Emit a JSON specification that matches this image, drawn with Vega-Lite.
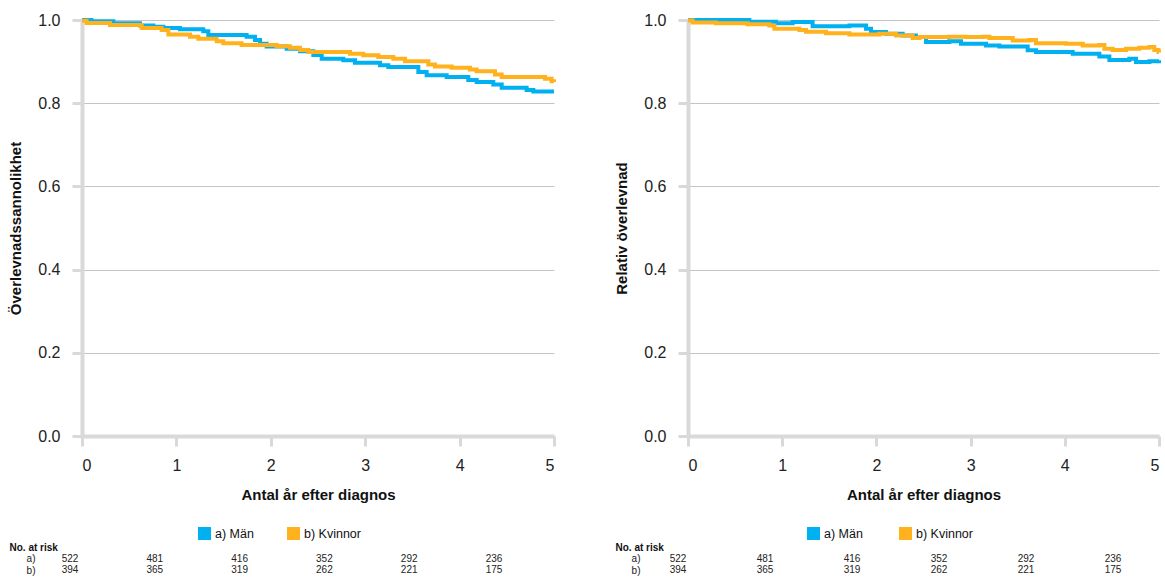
{
  "$schema": "https://vega.github.io/schema/vega-lite/v6.json",
  "padding": {"left": 8, "top": 12, "right": 0, "bottom": 0},
  "background": "white",
  "config": {
    "view": {"stroke": null},
    "font": "Liberation Sans",
    "axis": {"labelColor": "#222222", "titleColor": "#111111", "titleFontWeight": "bold"}
  },
  "datasets": {
    "surv": [
      {"t":0,"s":1.0,"g":"a) Män"},{"t":0.1,"s":0.997,"g":"a) Män"},{"t":0.332,"s":0.992,"g":"a) Män"},{"t":0.614,"s":0.987,"g":"a) Män"},{"t":0.756,"s":0.984,"g":"a) Män"},{"t":0.862,"s":0.981,"g":"a) Män"},{"t":1.038,"s":0.978,"g":"a) Män"},{"t":1.285,"s":0.973,"g":"a) Män"},{"t":1.338,"s":0.964,"g":"a) Män"},{"t":1.744,"s":0.960,"g":"a) Män"},{"t":1.833,"s":0.952,"g":"a) Män"},{"t":1.886,"s":0.943,"g":"a) Män"},{"t":1.956,"s":0.936,"g":"a) Män"},{"t":2.168,"s":0.931,"g":"a) Män"},{"t":2.309,"s":0.925,"g":"a) Män"},{"t":2.451,"s":0.916,"g":"a) Män"},{"t":2.539,"s":0.907,"g":"a) Män"},{"t":2.768,"s":0.903,"g":"a) Män"},{"t":2.892,"s":0.897,"g":"a) Män"},{"t":3.157,"s":0.891,"g":"a) Män"},{"t":3.245,"s":0.887,"g":"a) Män"},{"t":3.563,"s":0.875,"g":"a) Män"},{"t":3.651,"s":0.867,"g":"a) Män"},{"t":3.863,"s":0.863,"g":"a) Män"},{"t":4.092,"s":0.856,"g":"a) Män"},{"t":4.181,"s":0.851,"g":"a) Män"},{"t":4.357,"s":0.845,"g":"a) Män"},{"t":4.446,"s":0.837,"g":"a) Män"},{"t":4.71,"s":0.832,"g":"a) Män"},{"t":4.781,"s":0.828,"g":"a) Män"},{"t":5.0,"s":0.828,"g":"a) Män"},
      {"t":0,"s":0.998,"g":"b) Kvinnor"},{"t":0.049,"s":0.993,"g":"b) Kvinnor"},{"t":0.297,"s":0.988,"g":"b) Kvinnor"},{"t":0.632,"s":0.981,"g":"b) Kvinnor"},{"t":0.844,"s":0.976,"g":"b) Kvinnor"},{"t":0.915,"s":0.965,"g":"b) Kvinnor"},{"t":1.144,"s":0.960,"g":"b) Kvinnor"},{"t":1.232,"s":0.955,"g":"b) Kvinnor"},{"t":1.427,"s":0.949,"g":"b) Kvinnor"},{"t":1.497,"s":0.944,"g":"b) Kvinnor"},{"t":1.691,"s":0.940,"g":"b) Kvinnor"},{"t":2.062,"s":0.937,"g":"b) Kvinnor"},{"t":2.203,"s":0.933,"g":"b) Kvinnor"},{"t":2.309,"s":0.928,"g":"b) Kvinnor"},{"t":2.398,"s":0.923,"g":"b) Kvinnor"},{"t":2.839,"s":0.919,"g":"b) Kvinnor"},{"t":2.98,"s":0.915,"g":"b) Kvinnor"},{"t":3.139,"s":0.911,"g":"b) Kvinnor"},{"t":3.298,"s":0.907,"g":"b) Kvinnor"},{"t":3.422,"s":0.901,"g":"b) Kvinnor"},{"t":3.669,"s":0.893,"g":"b) Kvinnor"},{"t":3.739,"s":0.888,"g":"b) Kvinnor"},{"t":3.916,"s":0.885,"g":"b) Kvinnor"},{"t":4.11,"s":0.881,"g":"b) Kvinnor"},{"t":4.181,"s":0.877,"g":"b) Kvinnor"},{"t":4.375,"s":0.869,"g":"b) Kvinnor"},{"t":4.446,"s":0.863,"g":"b) Kvinnor"},{"t":4.905,"s":0.859,"g":"b) Kvinnor"},{"t":4.975,"s":0.853,"g":"b) Kvinnor"},{"t":5.0,"s":0.851,"g":"b) Kvinnor"}
    ],
    "rel": [
      {"t":0,"s":1.0,"g":"a) Män"},{"t":0.651,"s":0.996,"g":"a) Män"},{"t":0.934,"s":0.992,"g":"a) Män"},{"t":1.111,"s":0.995,"g":"a) Män"},{"t":1.323,"s":0.985,"g":"a) Män"},{"t":1.713,"s":0.987,"g":"a) Män"},{"t":1.89,"s":0.979,"g":"a) Män"},{"t":1.943,"s":0.971,"g":"a) Män"},{"t":2.102,"s":0.967,"g":"a) Män"},{"t":2.279,"s":0.963,"g":"a) Män"},{"t":2.42,"s":0.959,"g":"a) Män"},{"t":2.527,"s":0.947,"g":"a) Män"},{"t":2.774,"s":0.949,"g":"a) Män"},{"t":2.898,"s":0.943,"g":"a) Män"},{"t":3.163,"s":0.939,"g":"a) Män"},{"t":3.305,"s":0.936,"g":"a) Män"},{"t":3.606,"s":0.927,"g":"a) Män"},{"t":3.694,"s":0.923,"g":"a) Män"},{"t":4.084,"s":0.919,"g":"a) Män"},{"t":4.367,"s":0.912,"g":"a) Män"},{"t":4.473,"s":0.904,"g":"a) Män"},{"t":4.685,"s":0.907,"g":"a) Män"},{"t":4.756,"s":0.899,"g":"a) Män"},{"t":4.897,"s":0.901,"g":"a) Män"},{"t":5.0,"s":0.903,"g":"a) Män"},
      {"t":0,"s":0.999,"g":"b) Kvinnor"},{"t":0.049,"s":0.994,"g":"b) Kvinnor"},{"t":0.297,"s":0.992,"g":"b) Kvinnor"},{"t":0.632,"s":0.990,"g":"b) Kvinnor"},{"t":0.863,"s":0.987,"g":"b) Kvinnor"},{"t":0.917,"s":0.979,"g":"b) Kvinnor"},{"t":1.182,"s":0.976,"g":"b) Kvinnor"},{"t":1.253,"s":0.972,"g":"b) Kvinnor"},{"t":1.465,"s":0.968,"g":"b) Kvinnor"},{"t":1.713,"s":0.965,"g":"b) Kvinnor"},{"t":2.031,"s":0.967,"g":"b) Kvinnor"},{"t":2.208,"s":0.963,"g":"b) Kvinnor"},{"t":2.385,"s":0.957,"g":"b) Kvinnor"},{"t":2.456,"s":0.959,"g":"b) Kvinnor"},{"t":2.774,"s":0.960,"g":"b) Kvinnor"},{"t":2.951,"s":0.959,"g":"b) Kvinnor"},{"t":3.128,"s":0.960,"g":"b) Kvinnor"},{"t":3.199,"s":0.957,"g":"b) Kvinnor"},{"t":3.447,"s":0.951,"g":"b) Kvinnor"},{"t":3.623,"s":0.952,"g":"b) Kvinnor"},{"t":3.694,"s":0.944,"g":"b) Kvinnor"},{"t":4.013,"s":0.943,"g":"b) Kvinnor"},{"t":4.19,"s":0.939,"g":"b) Kvinnor"},{"t":4.367,"s":0.940,"g":"b) Kvinnor"},{"t":4.42,"s":0.931,"g":"b) Kvinnor"},{"t":4.508,"s":0.928,"g":"b) Kvinnor"},{"t":4.65,"s":0.931,"g":"b) Kvinnor"},{"t":4.791,"s":0.933,"g":"b) Kvinnor"},{"t":4.897,"s":0.935,"g":"b) Kvinnor"},{"t":4.95,"s":0.928,"g":"b) Kvinnor"},{"t":4.995,"s":0.923,"g":"b) Kvinnor"},{"t":5.0,"s":0.922,"g":"b) Kvinnor"}
    ],
    "risk": [
      {"t":0,"r":"a)","n":522},{"t":1,"r":"a)","n":481},{"t":2,"r":"a)","n":416},{"t":3,"r":"a)","n":352},{"t":4,"r":"a)","n":292},{"t":5,"r":"a)","n":236},
      {"t":0,"r":"b)","n":394},{"t":1,"r":"b)","n":365},{"t":2,"r":"b)","n":319},{"t":3,"r":"b)","n":262},{"t":4,"r":"b)","n":221},{"t":5,"r":"b)","n":175}
    ]
  },
  "resolve": {"scale": {"color": "independent"}, "legend": {"color": "independent"}},
  "spacing": 52,
  "hconcat": [
    {
      "spacing": 2,
      "resolve": {"scale": {"color": "independent"}, "legend": {"color": "independent"}},
      "vconcat": [
        {
          "width": 472,
          "height": 416,
          "data": {"name": "surv"},
          "mark": {"type": "line", "interpolate": "step-after", "strokeWidth": 4},
          "encoding": {
            "x": {"field": "t", "type": "quantitative", "scale": {"domain": [0, 5], "nice": false},
              "axis": {"title": "Antal år efter diagnos", "values": [0,1,2,3,4,5], "grid": false, "domainColor": "#d9d9d9", "domainWidth": 4, "tickColor": "#d9d9d9", "tickWidth": 3, "tickSize": 10, "labelFontSize": 16, "labelPadding": 11, "titleFontSize": 15, "titlePadding": 14}},
            "y": {"field": "s", "type": "quantitative", "scale": {"domain": [0, 1], "nice": false},
              "axis": {"title": "Överlevnadssannolikhet", "values": [0,0.2,0.4,0.6,0.8,1], "format": ".1f", "grid": true, "gridColor": "#c4c4c4", "gridWidth": 1, "domainColor": "#d9d9d9", "domainWidth": 4, "tickColor": "#d9d9d9", "tickWidth": 3, "tickSize": 10, "labelFontSize": 16, "labelPadding": 12, "titleFontSize": 15, "titlePadding": 14}},
            "color": {"field": "g", "type": "nominal",
              "scale": {"domain": ["a) Män", "b) Kvinnor"], "range": ["#00b0f0", "#ffb21e"]},
              "legend": {"title": null, "orient": "none", "legendX": 116, "legendY": 507, "direction": "horizontal", "padding": 0, "symbolType": "square", "symbolSize": 169, "labelFontSize": 12.5, "labelColor": "#111111", "labelOffset": 4, "columnPadding": 33,
                "encode": {"symbols": {"update": {"fill": {"signal": "datum.value === 'a) Män' ? '#00b0f0' : '#ffb21e'"}, "stroke": {"value": "transparent"}, "strokeWidth": {"value": 0}, "opacity": {"value": 1}}}}}}
          }
        },
        {
          "width": 440,
          "height": 23,
          "data": {"name": "risk"},
          "mark": {"type": "text", "fontSize": 10, "align": "center", "baseline": "middle", "color": "#222222"},
          "encoding": {
            "x": {"field": "t", "type": "quantitative", "scale": {"domain": [0.14151, 5.3302], "nice": false, "zero": false}, "axis": null},
            "y": {"field": "r", "type": "nominal", "scale": {"type": "point", "padding": 0.5},
              "axis": {"title": "No. at risk", "titleAngle": 0, "titleAlign": "left", "titleBaseline": "middle", "titleX": -73, "titleY": -6, "titleFontSize": 10, "titleFontWeight": "bold", "domain": false, "ticks": false, "grid": false, "labelFontSize": 10, "labelPadding": 47, "labelColor": "#222222"}},
            "text": {"field": "n", "type": "quantitative"}
          }
        }
      ]
    },
    {
      "spacing": 2,
      "resolve": {"scale": {"color": "independent"}, "legend": {"color": "independent"}},
      "vconcat": [
        {
          "width": 471,
          "height": 416,
          "data": {"name": "rel"},
          "mark": {"type": "line", "interpolate": "step-after", "strokeWidth": 4},
          "encoding": {
            "x": {"field": "t", "type": "quantitative", "scale": {"domain": [0, 5], "nice": false},
              "axis": {"title": "Antal år efter diagnos", "values": [0,1,2,3,4,5], "grid": false, "domainColor": "#d9d9d9", "domainWidth": 4, "tickColor": "#d9d9d9", "tickWidth": 3, "tickSize": 10, "labelFontSize": 16, "labelPadding": 11, "titleFontSize": 15, "titlePadding": 14}},
            "y": {"field": "s", "type": "quantitative", "scale": {"domain": [0, 1], "nice": false},
              "axis": {"title": "Relativ överlevnad", "values": [0,0.2,0.4,0.6,0.8,1], "format": ".1f", "grid": true, "gridColor": "#c4c4c4", "gridWidth": 1, "domainColor": "#d9d9d9", "domainWidth": 4, "tickColor": "#d9d9d9", "tickWidth": 3, "tickSize": 10, "labelFontSize": 16, "labelPadding": 12, "titleFontSize": 15, "titlePadding": 14}},
            "color": {"field": "g", "type": "nominal",
              "scale": {"domain": ["a) Män", "b) Kvinnor"], "range": ["#00b0f0", "#ffb21e"]},
              "legend": {"title": null, "orient": "none", "legendX": 119, "legendY": 507, "direction": "horizontal", "padding": 0, "symbolType": "square", "symbolSize": 169, "labelFontSize": 12.5, "labelColor": "#111111", "labelOffset": 4, "columnPadding": 36,
                "encode": {"symbols": {"update": {"fill": {"signal": "datum.value === 'a) Män' ? '#00b0f0' : '#ffb21e'"}, "stroke": {"value": "transparent"}, "strokeWidth": {"value": 0}, "opacity": {"value": 1}}}}}}
          }
        },
        {
          "width": 440,
          "height": 23,
          "data": {"name": "risk"},
          "mark": {"type": "text", "fontSize": 10, "align": "center", "baseline": "middle", "color": "#222222"},
          "encoding": {
            "x": {"field": "t", "type": "quantitative", "scale": {"domain": [0.11494, 5.1724], "nice": false, "zero": false}, "axis": null},
            "y": {"field": "r", "type": "nominal", "scale": {"type": "point", "padding": 0.5},
              "axis": {"title": "No. at risk", "titleAngle": 0, "titleAlign": "left", "titleBaseline": "middle", "titleX": -73, "titleY": -6, "titleFontSize": 10, "titleFontWeight": "bold", "domain": false, "ticks": false, "grid": false, "labelFontSize": 10, "labelPadding": 48, "labelColor": "#222222"}},
            "text": {"field": "n", "type": "quantitative"}
          }
        }
      ]
    }
  ]
}
